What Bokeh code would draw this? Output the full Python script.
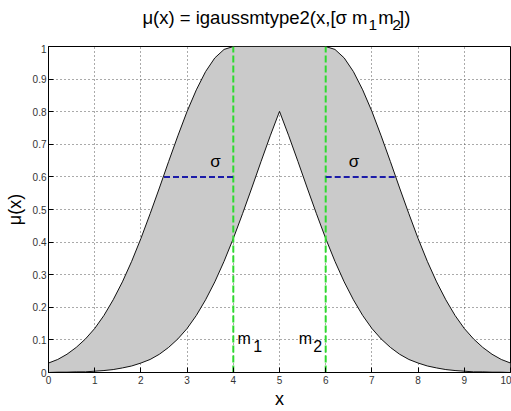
from bokeh.plotting import figure
from bokeh.layouts import column
from bokeh.models import Range1d, FixedTicker, CustomJSTickFormatter, Label
from bokeh.embed import file_html
from bokeh.resources import INLINE

# ---- data ----
x_vals = [round(0.2 * i, 1) for i in range(51)]
upper = [0.029, 0.040, 0.056, 0.077, 0.103, 0.135, 0.175, 0.223, 0.278, 0.341,
         0.411, 0.487, 0.566, 0.647, 0.726, 0.801, 0.867, 0.923, 0.965, 0.991,
         1, 1, 1, 1, 1, 1, 1, 1, 1, 1, 1,
         0.991, 0.965, 0.923, 0.867, 0.801, 0.726, 0.647, 0.566, 0.487, 0.411,
         0.341, 0.278, 0.223, 0.175, 0.135, 0.103, 0.077, 0.056, 0.040, 0.029]
lower = [0.000, 0.001, 0.001, 0.002, 0.002, 0.004, 0.006, 0.009, 0.014, 0.020,
         0.029, 0.040, 0.056, 0.077, 0.103, 0.135, 0.175, 0.223, 0.278, 0.341,
         0.411, 0.487, 0.566, 0.647, 0.726, 0.801, 0.726, 0.647, 0.566, 0.487,
         0.411, 0.341, 0.278, 0.223, 0.175, 0.135, 0.103, 0.077, 0.056, 0.040,
         0.029, 0.020, 0.014, 0.009, 0.006, 0.004, 0.002, 0.002, 0.001, 0.001, 0.000]
sigma = 1.5
m1 = 4
m2 = 6
sigma_level = 0.6
x_ticks = [0, 1, 2, 3, 4, 5, 6, 7, 8, 9, 10]
y_ticks = [0, 0.1, 0.2, 0.3, 0.4, 0.5, 0.6, 0.7, 0.8, 0.9, 1]

FONT = "Liberation Sans"
TITLE_H = 44
FRAME_L = 48
FRAME_R = 510

# ---- title strip: its frame is aligned with the main plot's frame (page x 48..510) ----
tf = figure(width=511, height=TITLE_H, x_range=Range1d(FRAME_L, FRAME_R), y_range=Range1d(TITLE_H, 0),
            output_backend="svg", toolbar_location=None, x_axis_type=None, y_axis_type=None,
            min_border_left=FRAME_L, min_border_right=511 - FRAME_R, min_border_top=0,
            min_border_bottom=0, background_fill_color="white", border_fill_color="white")
tf.outline_line_color = None
tf.grid.visible = False


def tlab(text, x, y, size, align="left"):
    tf.add_layout(Label(x=x, y=y, text=text, text_font=FONT, text_font_size=f"{size}px",
                        text_align=align, text_baseline="alphabetic", text_color="black"))


tlab("μ(x) = igaussmtype2(x,[σ m", 367, 17, 18.5, align="right")
tlab("1", 368, 24, 15.5)
tlab("m", 377.7, 17, 18.5)
tlab("2", 391.7, 24, 15.5)
tlab("])", 398.5, 17, 18.5)

# ---- main plot ----
p = figure(width=511, height=411 - TITLE_H, x_range=Range1d(0, 10), y_range=Range1d(0, 1),
           output_backend="svg", toolbar_location=None,
           min_border_left=FRAME_L, min_border_right=511 - FRAME_R, min_border_top=2,
           min_border_bottom=36, background_fill_color="white", border_fill_color="white")
p.outline_line_color = "black"
p.outline_line_width = 1

p.varea(x=x_vals, y1=lower, y2=upper, fill_color="#cacaca")
p.line(x_vals, upper, line_color="#111111", line_width=1)
p.line(x_vals, lower, line_color="#111111", line_width=1)

p.segment(x0=[m1, m2], y0=[0, 0], x1=[m1, m2], y1=[1, 1],
          line_color="#2edb2e", line_width=2, line_dash="7 3")
p.segment(x0=[m1 - sigma, m2], y0=[sigma_level, sigma_level],
          x1=[m1, m2 + sigma], y1=[sigma_level, sigma_level],
          line_color="#1c1ca8", line_width=2, line_dash="6 3")

for ax in (p.xaxis[0], p.yaxis[0]):
    ax.major_tick_in = 5
    ax.major_tick_out = 0
    ax.minor_tick_in = 0
    ax.minor_tick_out = 0
    ax.major_label_text_font = FONT
    ax.major_label_text_font_size = "10px"
    ax.major_label_text_color = "#333333"
    ax.axis_line_color = "black"
    ax.major_tick_line_color = "black"
    ax.axis_label_text_font = FONT
    ax.axis_label_text_font_size = "18px"
    ax.axis_label_text_font_style = "normal"
    ax.axis_label_text_color = "black"
p.xaxis.ticker = FixedTicker(ticks=x_ticks)
p.yaxis.ticker = FixedTicker(ticks=y_ticks)
p.xaxis.major_label_standoff = 3
p.yaxis.major_label_standoff = 2
p.yaxis.formatter = CustomJSTickFormatter(code="return String(Math.round(tick*10)/10)")
p.xaxis.axis_label = "x"
p.xaxis.axis_label_standoff = 2
p.yaxis.axis_label = "μ(x)"
p.yaxis.axis_label_standoff = 5

for g in (p.xgrid[0], p.ygrid[0]):
    g.grid_line_color = "#555555"
    g.grid_line_dash = "1 3"
    g.grid_line_width = 1
p.xgrid.ticker = FixedTicker(ticks=x_ticks)
p.ygrid.ticker = FixedTicker(ticks=y_ticks)


def dx(px):
    return (px - FRAME_L) / ((FRAME_R - FRAME_L) / 10)


def dy(py):
    return (375 - py) / 329


def lab(text, x, y, size):
    p.add_layout(Label(x=x, y=y, text=text, text_font=FONT, text_font_size=f"{size}px",
                       text_align="left", text_baseline="alphabetic", text_color="black"))


lab("σ", 3.5, dy(162.3), 17)
lab("σ", 6.5, dy(162.3), 17)
lab("m", dx(237), dy(341), 16)
lab("1", dx(252.7), dy(348.3), 16)
lab("m", dx(298.3), dy(341), 16)
lab("2", dx(312.7), dy(348.3), 16)

layout = column(tf, p, spacing=0)
open("out.html", "w").write(file_html(layout, INLINE))
